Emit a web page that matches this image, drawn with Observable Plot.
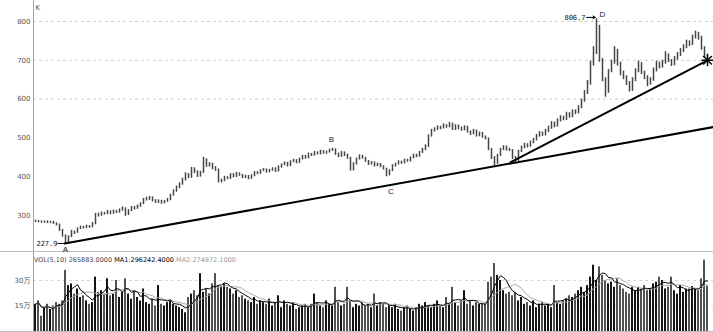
<!DOCTYPE html>
<html><head><meta charset="utf-8">
<script src="https://cdn.jsdelivr.net/npm/d3@7"></script>
<script src="https://cdn.jsdelivr.net/npm/@observablehq/plot@0.6"></script>
<style>
body{margin:0;background:#fff;}
#chart{position:relative;width:713px;height:332px;overflow:hidden;background:#fff;}
#chart svg{display:block;}
#price{position:relative;z-index:2;height:251px;}
#vol{position:relative;z-index:1;height:79px;border-top:1px solid #bdbdbd;border-bottom:1px solid #bdbdbd;}
#volhead{position:absolute;left:34px;top:5px;font:6.5px "DejaVu Sans",sans-serif;line-height:1;white-space:nowrap;color:#444;}
#volhead .ma1{color:#000;}
#volhead .ma2{color:#9a9a9a;}
</style></head><body>
<div id="chart"><div id="price"></div><div id="vol"><div id="volhead"></div></div></div>
<script>
const closes = [
285,284,282,284,281,283,279,276,262,248,
232,245,258,255,266,270,268,272,270,278,
302,300,306,304,310,305,311,308,314,318,
302,312,320,318,324,330,340,342,345,338,
334,337,332,336,340,352,362,372,380,392,
405,398,420,412,402,410,445,428,432,422,
418,388,390,398,395,405,400,408,404,398,
400,395,402,410,408,415,418,412,416,420,
414,425,430,435,428,438,442,436,445,452,
448,458,455,462,458,465,460,463,468,470,
458,452,462,455,448,418,432,445,452,448,
440,432,436,428,432,426,420,405,415,428,
432,438,435,442,440,448,455,452,462,470,
478,505,518,522,528,525,532,528,535,522,
530,524,520,528,515,510,518,505,512,502,
498,470,448,435,455,470,476,470,468,448,
442,465,475,482,478,488,495,505,512,508,
518,525,538,530,545,552,548,562,555,568,
565,578,595,615,640,690,720,785,700,650,
620,672,695,725,690,668,655,640,625,650,
672,690,668,655,640,650,675,690,682,695,
712,698,690,705,715,725,735,745,740,760,
768,758,730,712,700];
const highs = [
288,287,286,286,286,285,285,281,278,264,
250,248,262,260,268,273,272,275,274,282,
305,306,309,308,313,312,314,313,317,322,
320,315,323,323,327,333,344,347,349,348,
341,340,339,339,344,355,366,376,384,396,
410,408,424,423,415,414,450,446,436,435,
426,420,394,401,400,408,408,411,410,406,
404,403,405,413,413,418,421,420,419,423,
423,428,433,438,437,441,445,444,448,455,
455,461,460,465,464,468,467,466,471,473.5,
472,461,465,464,458,450,436,448,456,455,
450,442,439,438,435,434,428,422,418,431,
435,441,440,445,445,451,458,458,465,473,
482,508,522,526,531,530,536,534,540,538,
534,533,528,531,530,518,522,520,515,514,
505,500,473,452,458,473,480,479,473,470,
452,468,479,486,485,492,499,509,516,515,
522,530,542,541,549,557,556,566,565,572,
572,583,600,622,648,698,735,806.7,790,705,
655,676,700,735,728,695,672,660,645,655,
678,698,694,672,660,655,680,698,695,700,
722,716,702,710,720,730,740,752,750,765,
775,772,762,735,716];
const lows = [
282,281,280,280,279,279,277,273,259,244,
227.9,230,243,251,254,264,265,266,267,268,
276,296,298,301,302,302,303,305,306,311,
298,300,310,314,316,321,328,337,339,335,
331,331,329,330,334,338,350,360,369,378,
389,395,396,408,398,399,408,424,425,418,
414,384,384,387,392,393,397,398,401,395,
395,392,393,400,405,406,413,409,410,414,
411,412,422,428,425,426,436,433,434,443,
445,446,452,453,456,456,458,458,461,465,
455,449,450,452,445,414,415,430,443,445,
437,429,430,425,426,423,417,400,402,413,
425,430,432,433,437,438,446,449,450,460,
467,475,502,515,519,521,523,525,526,519,
519,521,517,518,512,506,508,502,503,499,
495,467,444,428,432,452,467,466,465,444,
437,439,462,472,474,476,485,492,502,504,
505,514,522,526,528,541,544,545,551,552,
560,562,575,592,612,636,685,715,695,645,
605,615,668,690,685,660,650,635,618,620,
645,668,663,650,632,636,646,670,678,680,
690,694,684,686,700,710,720,730,735,738,
755,752,726,705,692];
// volume in units of 万 (10,000)
const volumes = [
16,18,9,14,16,13,15,17,16,18,
36,27,28,22,25,20,21,18,16,17,
32,23,24,22,31,21,22,30,20,23,
31,22,19,24,20,18,25,17,16,19,
15,27,16,15,17,18,16,15,14,13,
11,20,22,24,21,34,23,25,22,28,
34,27,26,28,26,25,22,24,20,21,
19,18,17,20,16,18,17,16,19,15,
17,21,14,18,16,15,17,13,14,15,
16,14,16,22,17,15,14,18,16,15,
26,17,15,16,26,18,14,16,15,17,
15,16,14,22,15,17,16,14,15,14,
16,13,12,14,15,13,12,14,16,15,
17,15,14,16,18,15,14,20,16,26,
17,15,18,24,16,18,15,17,16,16,
16,29,32,40,33,30,24,22,23,21,
23,18,20,16,17,15,18,14,16,17,
15,16,14,27,17,16,18,19,21,20,
22,24,26,23,27,32,39,30,38,33,
30,28,29,26,31,27,25,23,22,26,
24,26,25,27,24,25,28,29,32,30,
25,26,32,24,22,27,23,25,25,26.4,
25,24,31,42,26.6];

const priceTicks = [300,400,500,600,700,800];
const priceGrid = [600,700,800];
const volTicks = [15,30];
const volTickLabels = ["15万","30万"];
const volHeaderParts = ["VOL(5,10) 265883.0000", "MA1:296242.4000", "MA2:274972.1000"];
const pointLabels = [
  {name:"A", i:10, p:227.9, dx:0, dy:5.5, anchor:"middle"},
  {name:"B", i:99, p:473.5, dx:-1, dy:-9, anchor:"middle"},
  {name:"C", i:118.5, p:378, dx:0, dy:6, anchor:"middle"},
  {name:"D", i:187, p:806.7, dx:3, dy:-4.5, anchor:"start"}
];
const lowMark = {i:10, p:227.9};
const highMark = {i:187, p:806.7};
const trendLine1 = [{i:9.7, p:227.9},{i:226, p:528}];
const trendLine2 = [{i:158.3, p:437},{i:224, p:700}];
const endMark = [{i:224, p:700}];

const X_DOMAIN = [-0.6667, 226];
const candles = closes.map((c,i)=>({i, c, h:highs[i], l:lows[i], up: i===0 || c >= closes[i-1]}));
const vols = volumes.map((v,i)=>({i, v, up: candles[i].up}));

const sans = "DejaVu Sans, sans-serif";
const mono = "DejaVu Sans Mono, monospace";

const labelMarks = pointLabels.map(d => Plot.text([d], {
  x: "i", y: "p", text: "name", dx: d.dx, dy: d.dy, textAnchor: d.anchor,
  fill: "#222", fontSize: 8, fontFamily: "Liberation Sans, Arial, sans-serif"
}));

const price = Plot.plot({
  width: 713, height: 251,
  marginLeft: 33, marginRight: 0, marginTop: 0, marginBottom: 0,
  x: {domain: X_DOMAIN, axis: null},
  y: {domain: [207.2, 854.1], axis: null},
  style: {background: "transparent", overflow: "visible"},
  marks: [
    Plot.ruleY(priceGrid, {stroke: "#cfcfcf", strokeDasharray: "3,3"}),
    Plot.ruleX([X_DOMAIN[0]], {stroke: "#a0a0a0"}),
    Plot.text(priceTicks, {x: X_DOMAIN[0], y: d => d, text: d => String(d), textAnchor: "end", dx: -3, fill: "#555", fontSize: 7, fontFamily: sans}),
    Plot.text(["K"], {frameAnchor: "top-left", dx: 2, dy: 5, lineAnchor: "top", fill: "#555", fontSize: 7, fontFamily: sans}),
    Plot.ruleX(candles, {x: "i", y1: "l", y2: "h", stroke: "#454545", strokeWidth: 1.5}),
    Plot.line(trendLine1, {x: "i", y: "p", stroke: "#000", strokeWidth: 2}),
    Plot.line(trendLine2, {x: "i", y: "p", stroke: "#000", strokeWidth: 2}),
    Plot.ruleY([lowMark], {y: "p", x1: d => d.i - 2.5, x2: d => d.i - 0.4, stroke: "#000"}),
    Plot.text([lowMark], {x: "i", y: "p", text: d => d.p.toFixed(1), textAnchor: "end", dx: -8, fill: "#111", fontSize: 7, fontFamily: mono}),
    Plot.arrow([highMark], {x1: d => d.i - 3.3, x2: d => d.i - 0.4, y1: "p", y2: "p", stroke: "#000", strokeWidth: 1, headLength: 4, dy: -1.5}),
    Plot.text([highMark], {x: "i", y: "p", text: d => d.p.toFixed(1), textAnchor: "end", dx: -11, dy: -1.5, fill: "#111", fontSize: 7, fontFamily: mono}),
    ...labelMarks,
    Plot.dot(endMark, {x: "i", y: "p", symbol: "plus", r: 4, stroke: "#000", strokeWidth: 1.4}),
    Plot.dot(endMark, {x: "i", y: "p", symbol: "times", r: 4, stroke: "#000", strokeWidth: 1.4})
  ]
});
document.getElementById("price").appendChild(price);

const vol = Plot.plot({
  width: 713, height: 79,
  marginLeft: 33, marginRight: 0, marginTop: 0, marginBottom: 0,
  x: {domain: X_DOMAIN, axis: null},
  y: {domain: [0, 46.47], axis: null},
  color: {type: "identity"},
  style: {background: "transparent", overflow: "visible"},
  marks: [
    Plot.ruleY(volTicks, {stroke: "#d6d6d6", strokeDasharray: "3,3"}),
    Plot.rectY(vols, {x1: d => d.i - 1/3, x2: d => d.i + 1/3, y: "v", fill: d => d.up ? "#141414" : "#525252"}),
    Plot.lineY(vols, Plot.windowY({k: 10, anchor: "end"}, {x: "i", y: "v", stroke: "#a8a8a8", strokeWidth: 1})),
    Plot.lineY(vols, Plot.windowY({k: 5, anchor: "end"}, {x: "i", y: "v", stroke: "#000", strokeWidth: 1})),
    Plot.ruleX([X_DOMAIN[0]], {stroke: "#a0a0a0"}),
    Plot.text(volTicks, {x: X_DOMAIN[0], y: d => d, text: (d, k) => volTickLabels[k], textAnchor: "end", dx: -3, fill: "#555", fontSize: 7, fontFamily: "DejaVu Sans, Noto Sans CJK SC, sans-serif"})
  ]
});
document.getElementById("vol").insertBefore(vol, document.getElementById("volhead"));

const head = document.getElementById("volhead");
head.innerHTML = "";
const s0 = document.createElement("span"); s0.textContent = volHeaderParts[0] + " ";
const s1 = document.createElement("span"); s1.className = "ma1"; s1.textContent = volHeaderParts[1] + " ";
const s2 = document.createElement("span"); s2.className = "ma2"; s2.textContent = volHeaderParts[2];
head.append(s0, s1, s2);
</script>
</body></html>
